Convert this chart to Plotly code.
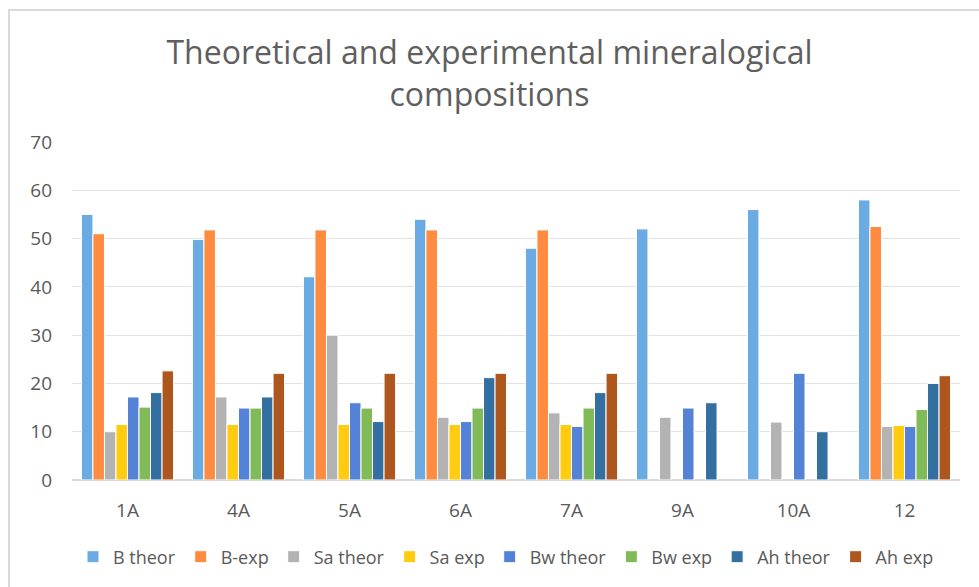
import plotly.graph_objects as go

categories = ["1A", "4A", "5A", "6A", "7A", "9A", "10A", "12"]

b_theor = [55, 49.8, 42.1, 54, 48, 52, 56, 58]
b_exp = [51, 51.8, 51.8, 51.8, 51.8, None, None, 52.5]
sa_theor = [10, 17.2, 30, 13, 13.9, 13, 12, 11.1]
sa_exp = [11.5, 11.5, 11.5, 11.5, 11.5, None, None, 11.3]
bw_theor = [17.2, 14.9, 16, 12.1, 11.1, 14.9, 22.1, 11.1]
bw_exp = [15.1, 14.9, 14.9, 14.9, 14.9, None, None, 14.6]
ah_theor = [18.1, 17.2, 12.1, 21.2, 18.1, 16, 10, 20]
ah_exp = [22.6, 22.1, 22.1, 22.1, 22.1, None, None, 21.6]

series_names = ["B theor", "B-exp", "Sa theor", "Sa exp", "Bw theor", "Bw exp", "Ah theor", "Ah exp"]
series_values = [b_theor, b_exp, sa_theor, sa_exp, bw_theor, bw_exp, ah_theor, ah_exp]
series_colors = ["#6aabe3", "#fd8c41", "#b3b3b3", "#ffcc12", "#5482d6", "#81bb57", "#346fa1", "#ad561e"]

y_ticks = [0, 10, 20, 30, 40, 50, 60, 70]

fig = go.Figure()
for name, vals, col in zip(series_names, series_values, series_colors):
    fig.add_trace(go.Bar(
        x=categories, y=vals, name=name,
        marker=dict(color=col, line=dict(color="white", width=1)),
    ))

W, H = 979, 587
ml, mr, mt, mb = 72, 19, 142, 107
pw, ph = W - ml - mr, H - mt - mb

def px_x(p):
    return (p - ml) / pw

def px_y(p):
    return (H - mb - p) / ph

fig.update_layout(
    width=W, height=H,
    margin=dict(l=ml, r=mr, t=mt, b=mb),
    paper_bgcolor="white", plot_bgcolor="white",
    font=dict(family="Open Sans", color="#595959"),
    title=dict(
        text="Theoretical and experimental mineralogical<br>compositions",
        font=dict(size=32, color="#5f5f5f"),
        x=0.5, xanchor="center",
        y=1 - 64 / H, yanchor="middle",
    ),
    barmode="group", bargap=0.17, bargroupgap=0,
    xaxis=dict(
        showgrid=False, showline=False, ticks="",
        tickfont=dict(size=19, color="#595959"),
        ticklabelstandoff=17,
    ),
    yaxis=dict(
        range=[0, 70], tickvals=y_ticks,
        showgrid=True, gridcolor="#e3e3e3", gridwidth=1,
        zeroline=True, zerolinecolor="#dadada", zerolinewidth=1.5,
        showline=False, ticks="",
        tickfont=dict(size=19, color="#595959"),
        ticklabelstandoff=19,
    ),
    legend=dict(
        orientation="h", x=px_x(506), xanchor="center",
        y=px_y(557), yanchor="middle",
        font=dict(size=18, color="#595959"),
        itemwidth=30, tracegroupgap=0,
    ),
    shapes=[dict(
        type="rect", xref="paper", yref="paper",
        x0=px_x(9), x1=px_x(990), y0=px_y(600), y1=px_y(10),
        line=dict(color="#d9d9d9", width=2), fillcolor="rgba(0,0,0,0)",
        layer="below",
    )],
)

fig.write_html("out.html", config={"displayModeBar": False},
               post_script="document.body.style.margin='0';")
